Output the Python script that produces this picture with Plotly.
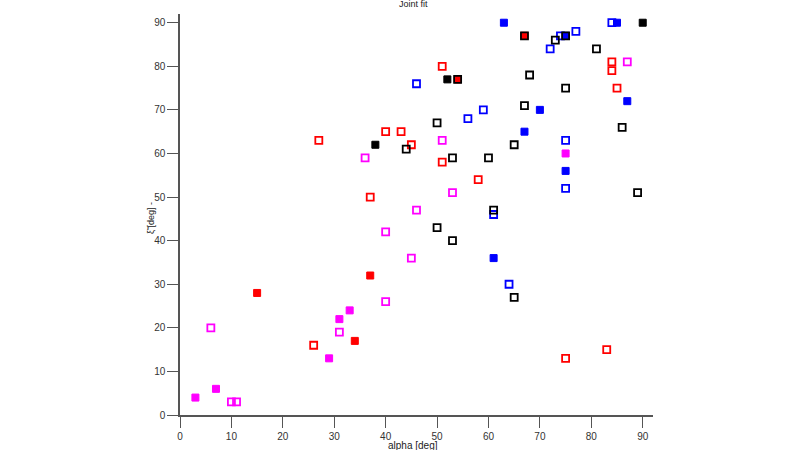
import plotly.graph_objects as go

# ---- data (alpha [deg], xi [deg]) ----
mag_f_x = [3, 7, 29, 31, 33, 75]
mag_f_y = [4, 6, 13, 22, 24, 60]
mag_o_x = [6, 10, 11, 31, 40, 40, 45, 46, 53, 51, 36, 87]
mag_o_y = [20, 3, 3, 19, 26, 42, 36, 47, 51, 63, 59, 81]
red_f_x = [15, 34, 37, 54, 67]
red_f_y = [28, 17, 32, 77, 87]
red_o_x = [27, 26, 37, 40, 43, 45, 51, 51, 58, 75, 83, 84, 84, 85]
red_o_y = [63, 16, 50, 65, 65, 62, 80, 58, 54, 13, 15, 81, 79, 75]
blk_f_x = [38, 52, 90]
blk_f_y = [62, 77, 90]
blk_o_x = [44, 50, 53, 50, 53, 60, 61, 65, 65, 67, 68, 73, 75, 81, 86, 89, 54, 67, 75]
blk_o_y = [61, 67, 59, 43, 40, 59, 47, 62, 27, 71, 78, 86, 75, 84, 66, 51, 77, 87, 87]
blu_f_x = [63, 61, 67, 70, 75, 85, 87, 75]
blu_f_y = [90, 36, 65, 70, 56, 90, 72, 87]
blu_o_x = [46, 56, 59, 61, 64, 72, 74, 75, 75, 77, 84]
blu_o_y = [76, 68, 70, 46, 30, 84, 87, 63, 52, 88, 90]

tick_vals = [0, 10, 20, 30, 40, 50, 60, 70, 80, 90]

RED = "#ff0000"
MAG = "#ff00ff"
BLU = "#0000ff"
BLK = "#000000"

fig = go.Figure()

def filled(x, y, c):
    fig.add_trace(go.Scatter(x=x, y=y, mode="markers", cliponaxis=False,
                             hoverinfo="skip",
                             marker=dict(symbol="square", size=7, color=c,
                                         line=dict(color=c, width=1))))

def opened(x, y, c):
    fig.add_trace(go.Scatter(x=x, y=y, mode="markers", cliponaxis=False,
                             hoverinfo="skip",
                             marker=dict(symbol="square-open", size=7, color=c,
                                         line=dict(color=c, width=1.8))))

filled(red_f_x, red_f_y, RED)
filled(blu_f_x, blu_f_y, BLU)
filled(mag_f_x, mag_f_y, MAG)
filled(blk_f_x, blk_f_y, BLK)
opened(mag_o_x, mag_o_y, MAG)
opened(red_o_x, red_o_y, RED)
opened(blu_o_x, blu_o_y, BLU)
opened(blk_o_x, blk_o_y, BLK)

FONT = "Liberation Sans, Arial"
axis_common = dict(
    range=[0, 92], tickmode="array", tickvals=tick_vals, automargin=False,
    ticks="outside", ticklen=11, tickwidth=1.3, tickcolor="#555555",
    showline=True, linecolor="#555555", linewidth=1.5,
    showgrid=False, zeroline=False, fixedrange=True,
    tickfont=dict(family=FONT, size=10, color="#333333"),
)

fig.update_layout(
    width=800, height=450,
    margin=dict(l=180, r=147, t=14, b=35, autoexpand=False),
    paper_bgcolor="white", plot_bgcolor="white",
    showlegend=False,
    font=dict(family=FONT, color="#222222"),
    xaxis=dict(**axis_common),
    yaxis=dict(**axis_common),
    annotations=[
        dict(text="Joint fit", xref="paper", yref="paper", x=0.493, y=1,
             yshift=10, xanchor="center", yanchor="middle", showarrow=False,
             font=dict(size=9, color="#222222")),
        dict(text="alpha [deg]", xref="paper", yref="paper", x=0.492, y=0,
             yshift=-30.5, xanchor="center", yanchor="middle", showarrow=False,
             font=dict(size=10, color="#222222")),
        dict(text="ξ̃ [deg] -", xref="paper", yref="paper", x=0, y=0.491,
             xshift=-29, xanchor="center", yanchor="middle", textangle=-90,
             showarrow=False, font=dict(size=9, color="#222222")),
    ],
)

fig.write_html("out.html", config={"displayModeBar": False},
               post_script="document.body.style.margin='0';")
